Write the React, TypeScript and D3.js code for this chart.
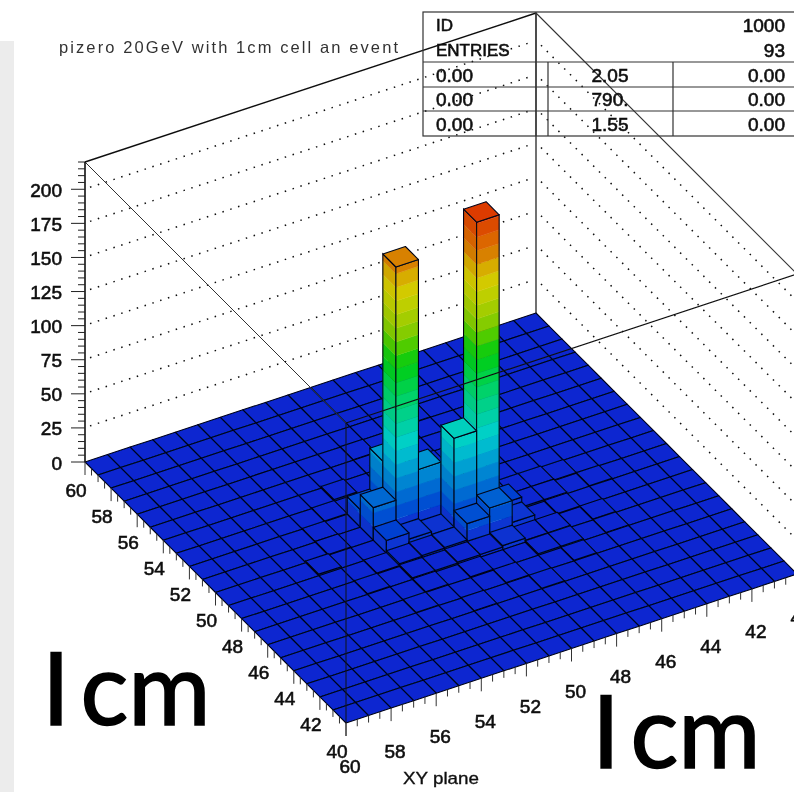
import React from "react";
import * as d3 from "d3";

// ---- data ----
const titleText = "pizero 20GeV with 1cm cell an event";
const axisTitle = "XY plane";
const zTicks = [0, 25, 50, 75, 100, 125, 150, 175, 200];
const zMinorTicks = [5, 10, 15, 20, 30, 35, 40, 45, 55, 60, 65, 70, 80, 85, 90, 95, 105, 110, 115, 120, 130, 135, 140, 145, 155, 160, 165, 170, 180, 185, 190, 195, 205, 210, 215, 220];
const planeTicks = [60, 58, 56, 54, 52, 50, 48, 46, 44, 42, 40];
const hitRow = [9, 10, 10, 9, 8, 9, 8, 10, 10, 10, 11, 11, 11, 11, 11, 12, 12, 10, 11, 9, 9, 8, 9, 12, 12, 12, 10, 6, 12, 12, 9, 9, 10, 10, 13, 13, 7, 7, 8, 8, 9, 9, 11, 12, 13, 14, 13, 14, 12, 11, 10, 7, 6, 8, 5, 14, 15, 15, 13, 4, 3];
const hitCol = [8, 11, 10, 9, 8, 7, 7, 7, 8, 9, 8, 9, 7, 10, 11, 9, 10, 12, 12, 10, 11, 9, 12, 11, 12, 13, 4, 7, 7, 8, 13, 14, 13, 14, 12, 13, 6, 9, 10, 11, 5, 15, 14, 5, 7, 10, 9, 13, 15, 6, 16, 12, 11, 5, 14, 6, 11, 8, 15, 9, 12];
const hitValue = [195, 221, 68, 41, 43, 24, 13, 9.5, 5, 3, 2.5, 3, 2, 15, 21, 1.8, 2, 8.5, 5, 25, 30, 6, 3, 3, 1.5, 1.5, 1.2, 1.2, 1.2, 1.2, 1.2, 1.2, 1.2, 1.2, 1.2, 1.2, 0.5, 0.6, 0.5, 0.6, 0.6, 0.5, 0.6, 0.5, 0.6, 0.5, 0.6, 0.5, 0.6, 0.6, 0.5, 0.5, 0.5, 0.5, 0.4, 0.4, 0.4, 0.4, 0.4, 0.4, 0.4];
const statsTop = [["ID", "1000"], ["ENTRIES", "93"]];
const statsRows = [["0.00", "2.05", "0.00"], ["0.00", "790.", "0.00"], ["0.00", "1.55", "0.00"]];
const colorStops = [0, 15, 30, 45, 63, 80, 100, 122, 147, 173, 188, 196, 206, 222];
const colorRamp = ["#0828d0", "#0450d2", "#0078d2", "#00a0d2", "#00d0cc", "#00d098", "#00d25a", "#08cc08", "#90cc00", "#d2d000", "#d8a400", "#d87c00", "#dc6400", "#dc3800"];
const NBINS = 20;

// ---- projection ----
const W = 794, H = 792;
const leftCorner: [number, number] = [85, 462];
const along = d3.scaleLinear().domain([0, NBINS]).range([0, 261]);
const acrossX = d3.scaleLinear().domain([0, NBINS]).range([0, 451]);
const acrossY = d3.scaleLinear().domain([0, NBINS]).range([0, -149]);
const zPx = d3.scaleLinear().domain([0, 220]).range([0, 300]);
const project = (u: number, v: number, z: number): [number, number] => [
  leftCorner[0] + along(u) + acrossX(v),
  leftCorner[1] + along(u) + acrossY(v) - zPx(z),
];
const path = d3.line<[number, number]>().curve(d3.curveLinearClosed);
const lineOpen = d3.line<[number, number]>();
const ramp = d3.scaleLinear<string>().domain(colorStops).range(colorRamp).interpolate(d3.interpolateRgb).clamp(true);
const BAND = 10;
const bandColor = (z: number) => ramp((Math.floor(z / BAND) + 0.5) * BAND);
const flat = (z: number) => (z < 3 ? colorRamp[0] : ramp(z));
const EDGE = "#020618";

const heights = new Map<string, number>();
hitRow.forEach((r, i) => heights.set(`${r},${hitCol[i]}`, hitValue[i]));

function Face({ a, b, h, dark }: { a: [number, number]; b: [number, number]; h: number; dark: boolean }) {
  if (h <= 0) return null;
  const edges = d3.range(0, h, BAND).concat([h]);
  const bands = edges.slice(0, -1).map((z0, i) => {
    const z1 = edges[i + 1];
    const c = z1 < 3 ? colorRamp[0] : bandColor(z0);
    const col = dark ? d3.color(c)!.darker(0.1).formatHex() : c;
    return (
      <path key={i} fill={col} stroke={col} strokeWidth={0.4}
        d={path([project(a[0], a[1], z0), project(b[0], b[1], z0), project(b[0], b[1], z1), project(a[0], a[1], z1)])!} />
    );
  });
  return (
    <g>
      {bands}
      <path fill="none" stroke={EDGE} strokeWidth={1.1}
        d={path([project(a[0], a[1], 0), project(b[0], b[1], 0), project(b[0], b[1], h), project(a[0], a[1], h)])!} />
    </g>
  );
}

function Lego() {
  const cells: React.ReactNode[] = [];
  for (const u of d3.range(NBINS)) {
    for (const v of d3.range(NBINS - 1, -1, -1)) {
      const h = heights.get(`${u},${v}`) ?? 0;
      cells.push(
        <g key={`${u}-${v}`}>
          <Face a={[u, v]} b={[u + 1, v]} h={h} dark />
          <Face a={[u + 1, v]} b={[u + 1, v + 1]} h={h} dark={false} />
          <path fill={flat(h)} stroke={EDGE} strokeWidth={1.1} strokeLinejoin="round"
            d={path([project(u, v, h), project(u + 1, v, h), project(u + 1, v + 1, h), project(u, v + 1, h)])!} />
        </g>
      );
    }
  }
  return <g>{cells}</g>;
}

const lblFont = "'Liberation Sans', Arial, sans-serif";
const lbl = { fontFamily: lblFont, fontSize: 19, fill: "#111", stroke: "#111", strokeWidth: 0.6 } as const;

export default function App() {
  const topLeft = project(0, 0, 220), topBack = project(0, NBINS, 220), topRight = project(NBINS, NBINS, 220), topFront = project(NBINS, 0, 220);
  const baseBack = project(0, NBINS, 0), baseFront = project(NBINS, 0, 0);
  const minorPlane = d3.range(0, NBINS + 0.01, 0.5);
  return (
    <svg width={W} height={H} viewBox={`0 0 ${W} ${H}`} style={{ position: "absolute", left: 0, top: 0, background: "#fff" }}>
      <defs>
        <filter id="soft" x="-2%" y="-2%" width="104%" height="104%">
          <feGaussianBlur stdDeviation={0.45} />
        </filter>
        <filter id="softer" filterUnits="userSpaceOnUse" x="0" y="0" width={W} height={H}>
          <feGaussianBlur stdDeviation={0.25} />
        </filter>
      </defs>
      <rect x={0} y={41} width={14} height={H - 41} fill="#ececec" />
      <g filter="url(#soft)">
        <text x={59} y={53} fontFamily={lblFont} fontSize={16.5} fill="#333" textLength={339} lengthAdjust="spacing">{titleText}</text>
        {/* walls */}
        {zTicks.slice(1).map((z) => {
          const a = project(0, 0, z), b = project(0, NBINS, z), c = project(NBINS, NBINS, z);
          return (
            <g key={z} fill="none" stroke="#111" strokeWidth={1.5} strokeDasharray="1.5 6.7">
              <path d={lineOpen([[a[0] + 5, a[1] - 2], [b[0] - 5, b[1] + 2]])!} />
              <path d={lineOpen([[b[0] + 5, b[1] + 5], c])!} />
            </g>
          );
        })}
        <path d={lineOpen([topLeft, topBack])!} stroke="#111" strokeWidth={1.4} fill="none" />
        <path d={lineOpen([topBack, baseBack])!} stroke="#333" strokeWidth={1.4} fill="none" />
        <path d={lineOpen([topBack, topRight])!} stroke="#333" strokeWidth={1.1} fill="none" />
      </g>
      <g filter="url(#softer)">
        <Lego />
        <path d={lineOpen([topFront, baseFront])!} stroke="#111" strokeWidth={1} fill="none" />
        <path d={lineOpen([topFront, topRight])!} stroke="#111" strokeWidth={1.2} fill="none" />
      </g>
      <g filter="url(#soft)">
        {/* front box edge */}
        <path d={lineOpen([topLeft, topFront])!} stroke="#333" strokeWidth={1} fill="none" />
        {/* z axis */}
        <path d={lineOpen([topLeft, project(0, 0, 0)])!} stroke="#111" strokeWidth={1.6} fill="none" />
        {zMinorTicks.map((z) => {
          const p = project(0, 0, z);
          return <path key={z} d={lineOpen([[p[0] - 7, p[1]], p])!} stroke="#222" strokeWidth={1} />;
        })}
        {zTicks.map((z) => {
          const p = project(0, 0, z);
          return (
            <g key={z}>
              <path d={lineOpen([[p[0] - 14, p[1]], p])!} stroke="#222" strokeWidth={1} />
              <text x={62} y={p[1] + 1} textAnchor="end" dominantBaseline="central" {...lbl}>{z}</text>
            </g>
          );
        })}
        {/* plane ticks */}
        {minorPlane.map((t) => {
          const major = Number.isInteger(t / 2);
          const len = major ? 13 : 7;
          const p = project(t, 0, 0), q = project(NBINS, t, 0);
          return (
            <g key={t} stroke="#333" strokeWidth={1}>
              <path d={lineOpen([p, [p[0], p[1] + len]])!} />
              <path d={lineOpen([q, [q[0], q[1] + len]])!} />
            </g>
          );
        })}
        {planeTicks.map((t, i) => {
          const p = project(i * 2, 0, 0), q = project(NBINS, i * 2, 0);
          return (
            <g key={t}>
              <text x={p[0] - 9} y={p[1] + 28} textAnchor="middle" dominantBaseline="central" {...lbl}>{t}</text>
              <text x={q[0] + 4} y={q[1] + 43} textAnchor="middle" dominantBaseline="central" {...lbl}>{t}</text>
            </g>
          );
        })}
        <text x={403} y={784} {...lbl} fontSize={17} strokeWidth={0.35} textLength={76} lengthAdjust="spacingAndGlyphs">{axisTitle}</text>
        {/* stats box */}
        <g fill="none" stroke="#333" strokeWidth={1.2}>
          <rect x={423} y={12} width={380} height={124} />
          {[62, 87, 111].map((y) => <path key={y} d={`M423 ${y}H794`} />)}
          <path d="M536 12V136M548 62V136M673 62V136" />
        </g>
        {statsTop.map((r, i) => (
          <g key={r[0]}>
            <text x={436} y={25 + i * 25} dominantBaseline="central" {...lbl} fontSize={17}>{r[0]}</text>
            <text x={785} y={25 + i * 25} textAnchor="end" dominantBaseline="central" {...lbl}>{r[1]}</text>
          </g>
        ))}
        {statsRows.map((r, i) => {
          const y = 75 + i * 24.7;
          return (
            <g key={i}>
              <text x={436} y={y} dominantBaseline="central" {...lbl}>{r[0]}</text>
              <text x={610} y={y} textAnchor="middle" dominantBaseline="central" {...lbl}>{r[1]}</text>
              <text x={785} y={y} textAnchor="end" dominantBaseline="central" {...lbl}>{r[2]}</text>
            </g>
          );
        })}
      </g>
      {/* annotations */}
      {[[42, 725], [592, 768]].map(([x, y]) => (
        <text key={x} x={x} y={y} fontFamily="Lato, 'Noto Sans', sans-serif" fontSize={100} fill="#000" stroke="#000" strokeWidth={1.6}>
          I<tspan dx={12}>cm</tspan>
        </text>
      ))}
    </svg>
  );
}
